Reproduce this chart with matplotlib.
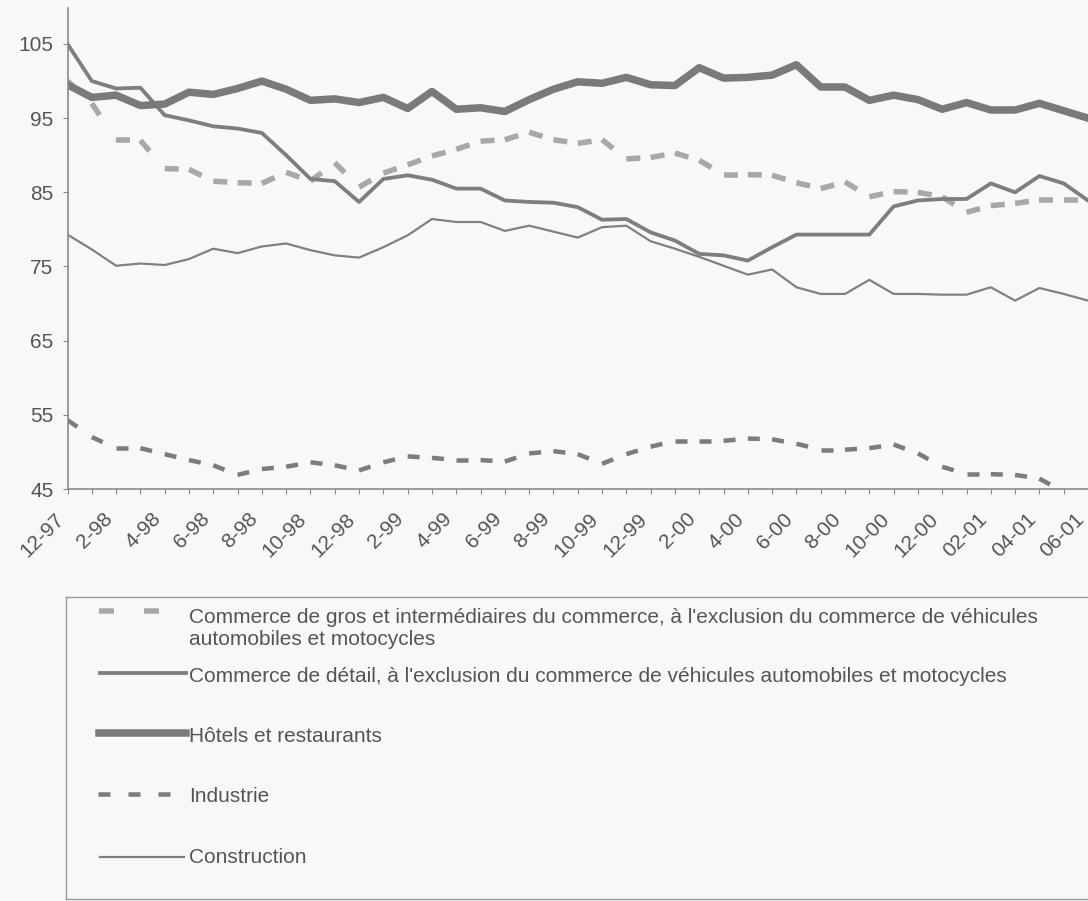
import matplotlib
matplotlib.use("Agg")
import matplotlib.pyplot as plt
import numpy as np

plt.rcParams['font.family'] = ['Liberation Sans', 'DejaVu Sans']
plt.rcParams['lines.scale_dashes'] = False

# monthly index, 12-97 .. 06-01 (43 months)
n_months = 43
tick_labels = ["12-97", "2-98", "4-98", "6-98", "8-98", "10-98", "12-98",
               "2-99", "4-99", "6-99", "8-99", "10-99", "12-99",
               "2-00", "4-00", "6-00", "8-00", "10-00", "12-00",
               "02-01", "04-01", "06-01"]

gros = [100.0, 97.0, 92.0, 92.0, 88.2, 88.1, 86.5, 86.3, 86.2, 87.7,
        86.5, 89.0, 85.7, 87.6, 88.7, 89.9, 90.8, 91.9, 92.1, 93.1,
        92.1, 91.6, 92.1, 89.5, 89.7, 90.3, 89.3, 87.4, 87.4, 87.3,
        86.3, 85.5, 86.4, 84.4, 85.1, 85.0, 84.4, 82.3, 83.2, 83.5,
        84.0, 84.0, 84.0]

detail = [105.0, 100.0, 99.0, 99.1, 95.4, 94.7, 93.9, 93.6, 93.0, 90.0,
          86.8, 86.5, 83.7, 86.8, 87.3, 86.7, 85.5, 85.5, 83.9, 83.7,
          83.6, 83.0, 81.3, 81.4, 79.6, 78.5, 76.7, 76.5, 75.8, 77.6,
          79.3, 79.3, 79.3, 79.3, 83.1, 83.9, 84.1, 84.1, 86.2, 85.0,
          87.2, 86.2, 83.9]

hotels = [99.5, 97.8, 98.1, 96.7, 96.9, 98.5, 98.2, 99.0, 100.0, 98.9,
          97.4, 97.6, 97.1, 97.8, 96.3, 98.6, 96.2, 96.4, 95.9, 97.5,
          98.9, 99.9, 99.7, 100.5, 99.5, 99.4, 101.8, 100.4, 100.5, 100.8,
          102.2, 99.2, 99.2, 97.4, 98.1, 97.5, 96.2, 97.1, 96.1, 96.1,
          97.0, 96.0, 95.0]

industrie = [54.3, 52.0, 50.5, 50.5, 49.7, 48.9, 48.2, 46.9, 47.7, 48.0,
             48.6, 48.2, 47.5, 48.6, 49.4, 49.2, 48.9, 48.9, 48.7, 49.8,
             50.1, 49.7, 48.4, 49.7, 50.7, 51.5, 51.5, 51.5, 51.8, 51.7,
             51.1, 50.3, 50.3, 50.5, 51.0, 49.8, 48.0, 47.0, 47.0, 46.9,
             46.4, 44.6, 43.8]

construction = [79.3, 77.3, 75.1, 75.4, 75.2, 76.0, 77.4, 76.8, 77.7, 78.1,
                77.2, 76.5, 76.2, 77.6, 79.2, 81.4, 81.0, 81.0, 79.8, 80.5,
                79.7, 78.9, 80.3, 80.5, 78.4, 77.4, 76.3, 75.1, 73.9, 74.6,
                72.2, 71.3, 71.3, 73.2, 71.3, 71.3, 71.2, 71.2, 72.2, 70.4,
                72.1, 71.3, 70.4]

labels = [
    "Commerce de gros et intermédiaires du commerce, à l'exclusion du commerce de véhicules\nautomobiles et motocycles",
    "Commerce de détail, à l'exclusion du commerce de véhicules automobiles et motocycles",
    "Hôtels et restaurants",
    "Industrie",
    "Construction",
]

W, H = 1088, 901
BG = "#f8f8f8"
TXT = "#555555"
AX = "#8a8a8a"
PX = 0.72  # points per pixel at dpi 100

styles = [
    dict(color="#a8a8a8", lw=5.5 * PX, dashes=(14 * PX, 30 * PX), solid_capstyle="butt",
         dash_capstyle="butt"),
    dict(color="#7e7e7e", lw=3.8 * PX, solid_joinstyle="round"),
    dict(color="#7a7a7a", lw=7.5 * PX, solid_joinstyle="round"),
    dict(color="#7c7c7c", lw=4.5 * PX, dashes=(12 * PX, 18 * PX), dash_capstyle="butt"),
    dict(color="#808080", lw=2.2 * PX, solid_joinstyle="round"),
]
series = [gros, detail, hotels, industrie, construction]

fig = plt.figure(figsize=(W / 100, H / 100), dpi=100, facecolor=BG)

x0, x1 = 67.5, 1088
y_top, y_bot = 8, 489
ax = fig.add_axes([x0 / W, 1 - y_bot / H, (x1 - x0) / W, (y_bot - y_top) / H])
ax.set_facecolor("none")

x = np.arange(n_months)
for vals, st in zip(series, styles):
    vals = np.asarray(vals)
    if "dashes" in st:
        # the dash pattern restarts at every data point
        for i in range(n_months - 1):
            ax.plot(x[i:i + 2], vals[i:i + 2], **st)
    else:
        ax.plot(x, vals, **st)

ax.set_xlim(0, n_months - 1)
ax.set_ylim(45, 45 + (y_bot - y_top) / 7.417)
ax.set_yticks(np.arange(45, 106, 10))
ax.set_xticks(x[::2])
ax.set_xticks(x, minor=True)
ax.set_xticklabels(tick_labels, rotation=45, ha="right", va="top")

for s in ["top", "right"]:
    ax.spines[s].set_visible(False)
for s in ["left", "bottom"]:
    ax.spines[s].set_color(AX)
    ax.spines[s].set_linewidth(1.2)

ax.tick_params(axis="both", which="both", direction="out", length=5 * PX,
               width=0.8, color=AX, labelcolor=TXT, labelsize=15)
ax.tick_params(axis="y", pad=6.5)
ax.tick_params(axis="x", which="major", pad=11)

# legend box drawn in pixel coordinates
lx0, lx1, ly0, ly1 = 66, 1094, 597, 899
lax = fig.add_axes([lx0 / W, 1 - ly1 / H, (lx1 - lx0) / W, (ly1 - ly0) / H])
lax.set_xlim(lx0, lx1)
lax.set_ylim(ly1, ly0)
lax.set_facecolor("none")
lax.set_xticks([])
lax.set_yticks([])
for s in lax.spines.values():
    s.set_color("#9a9a9a")
    s.set_linewidth(1.0)

handle_y = [611, 673, 733, 794, 857]
text_y = [628.5, 677, 737, 797, 858]
handle_x = [[99, 185], [100, 186], [99, 186], [98, 171], [100, 184]]
for st, lab, hy, ty, hx in zip(styles, labels, handle_y, text_y, handle_x):
    lst = dict(st)
    if "dashes" in lst:
        lst["dashes"] = (15 * PX, 30 * PX) if lst["color"] == "#a8a8a8" else (12 * PX, 18 * PX)
    lax.plot(hx, [hy, hy], **lst)
    lax.text(189, ty, lab, fontsize=15, color=TXT, va="center", ha="left",
             linespacing=1.2)

fig.savefig("out.png", dpi=100, facecolor=BG)
